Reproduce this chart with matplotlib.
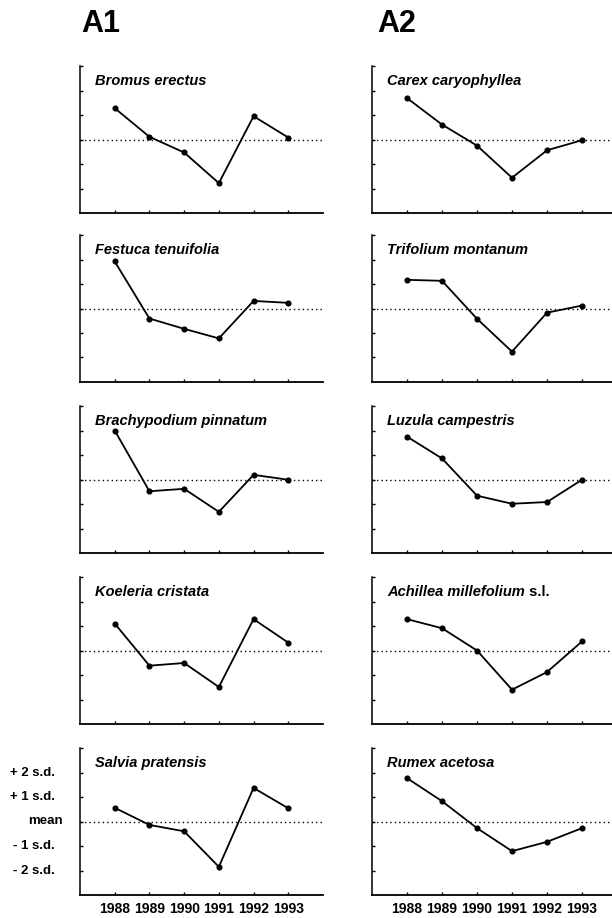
import numpy as np
import matplotlib.pyplot as plt
from matplotlib.transforms import blended_transform_factory

plt.rcParams['font.family'] = 'Liberation Sans'

years = [1988, 1989, 1990, 1991, 1992, 1993]

# deviation of each year from the 1988-93 mean, in s.d. units
bromus = [1.28, 0.11, -0.53, -1.78, 0.95, 0.08]
festuca = [1.92, -0.41, -0.83, -1.22, 0.31, 0.23]
brachypodium = [2.0, -0.48, -0.38, -1.32, 0.19, -0.01]
koeleria = [1.10, -0.62, -0.51, -1.49, 1.28, 0.32]
salvia = [0.56, -0.14, -0.40, -1.85, 1.37, 0.54]

carex = [1.69, 0.61, -0.25, -1.56, -0.44, -0.03]
trifolium = [1.17, 1.13, -0.42, -1.76, -0.17, 0.12]
luzula = [1.75, 0.86, -0.66, -0.99, -0.92, -0.01]
achillea = [1.28, 0.91, 0.0, -1.60, -0.88, 0.37]
rumex = [1.77, 0.83, -0.27, -1.21, -0.83, -0.27]

names_a1 = ['Bromus erectus', 'Festuca tenuifolia', 'Brachypodium pinnatum',
            'Koeleria cristata', 'Salvia pratensis']
names_a2 = ['Carex caryophyllea', 'Trifolium montanum', 'Luzula campestris',
            'Achillea millefolium', 'Rumex acetosa']
series_a1 = [bromus, festuca, brachypodium, koeleria, salvia]
series_a2 = [carex, trifolium, luzula, achillea, rumex]

sd_ticks = [2, 1, 0, -1, -2]
sd_labels = ['+ 2 s.d.', '+ 1 s.d.', 'mean', '- 1 s.d.', '- 2 s.d.']

W, H = 612, 918
fig = plt.figure(figsize=(W / 100, H / 100), dpi=100)

tops = [66, 235, 406, 577, 748]
panel_h = 147
lefts = [80, 372]
widths = [243, 245]

columns = [(names_a1, series_a1), (names_a2, series_a2)]
for c, (names, series) in enumerate(columns):
    for r in range(5):
        ax = fig.add_axes([lefts[c] / W, 1 - (tops[r] + panel_h) / H,
                           widths[c] / W, panel_h / H])
        ax.plot(years, series[r], '-o', color='k', lw=1.3, ms=3.4)
        ax.axhline(0, color='k', lw=1, ls=(0, (1, 2.2)))
        ax.set_xlim(1987, 1994)
        ax.set_ylim(-3, 3)
        ax.set_xticks(years)
        ax.set_yticks([-2, -1, 0, 1, 2, 3])
        ax.tick_params(direction='in', length=2.5, width=1,
                       labelleft=False, labelbottom=(r == 4), pad=5)
        for lab in ax.get_xticklabels():
            lab.set_fontweight('bold')
            lab.set_fontsize(10)
        ax.spines['top'].set_visible(False)
        ax.spines['right'].set_visible(False)
        ax.spines['left'].set_linewidth(1.1)
        ax.spines['bottom'].set_linewidth(1.3)

        t = ax.text(0.062, 0.87, names[r], transform=ax.transAxes,
                    fontsize=10.5, fontweight='bold', style='italic',
                    va='baseline', ha='left')
        if names[r] == 'Achillea millefolium':
            ax.annotate(' s.l.', xy=(1, 0), xycoords=t, va='bottom', ha='left',
                        fontsize=10.5, fontweight='bold')

        if c == 0 and r == 4:
            tr = blended_transform_factory(fig.transFigure, ax.transData)
            for v, s in zip(sd_ticks, sd_labels):
                x = 63 if s == 'mean' else 55
                ax.text(x / W, v, s, transform=tr, ha='right', va='center',
                        fontsize=9.5, fontweight='bold')

fig.text(81 / W, 1 - 32 / H, 'A1', fontsize=22, fontweight='bold', va='baseline')
fig.text(377 / W, 1 - 32 / H, 'A2', fontsize=22, fontweight='bold', va='baseline')

fig.savefig('out.png', dpi=100)
